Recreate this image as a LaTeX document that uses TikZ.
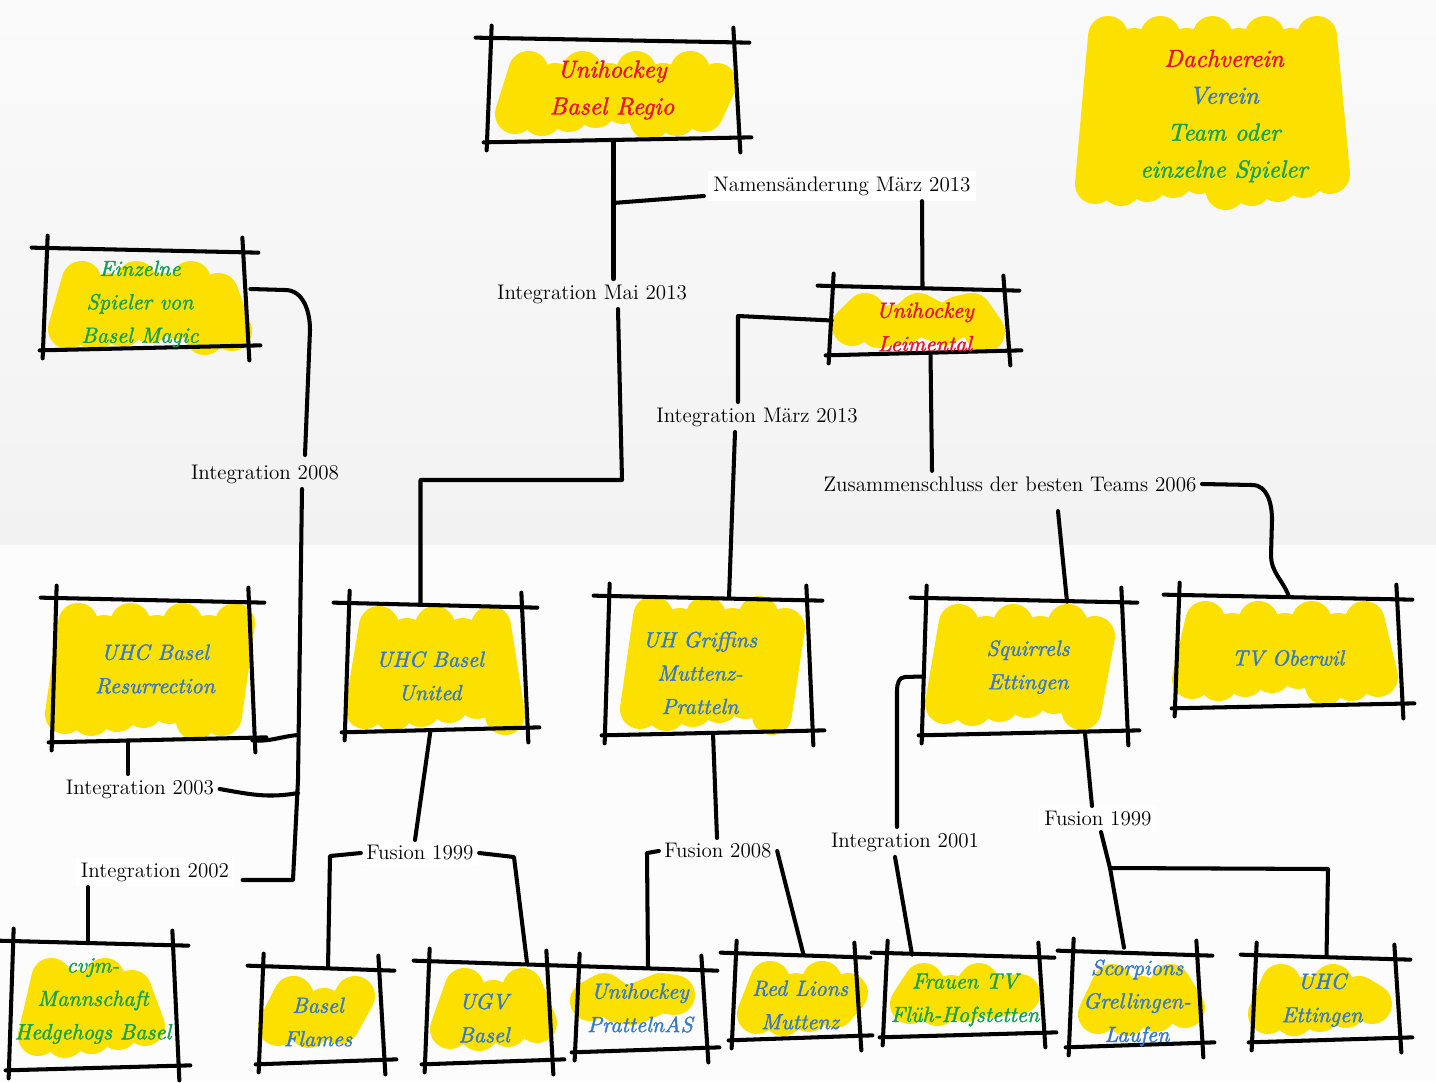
\documentclass[tikz,border=0pt]{standalone}
\usepackage{fontspec}
\usepackage{tikz}
\usetikzlibrary{calc,fit}

\newfontfamily\handfont{lmroman10-italic}[Extension=.otf, FakeBold=1.6]

\definecolor{yel}{RGB}{252,225,0}
\definecolor{cred}{RGB}{230,20,50}
\definecolor{cblue}{RGB}{55,120,200}
\definecolor{cgreen}{RGB}{20,160,85}
\definecolor{bgtop}{RGB}{243,242,243}
\definecolor{bgbot}{RGB}{252,252,252}

% hand drawn frame round a team node
\newcommand{\sketchframe}[1]{%
  \draw[pen] ($(#1.north west)+(-14,-2)$) -- ($(#1.north east)+(12,3)$);
  \draw[pen] ($(#1.north west)+(2,-14)$) -- ($(#1.south west)+(-3,10)$);
  \draw[pen] ($(#1.north east)+(-4,-12)$) -- ($(#1.south east)+(3,12)$);
  \draw[pen] ($(#1.south west)+(-6,2)$) -- ($(#1.south east)+(14,-3)$);
}
% yellow marker scribble
\newcommand{\scrib}[4]{%
  \pgfmathtruncatemacro\nseg{max(3,(#3-#1-40)/13)}
  \draw[blob] ({#1+20},{#4-26})
    \foreach \k in {1,...,\nseg}{ -- ({#1+20+\k*(#3-#1-40)/\nseg},
      {#2+20+6*mod(\k*5,4)+mod(\k+1,2)*(#4-#2-40-6*mod(\k*5,4)-4*mod(\k*3,5))}) };
}

\begin{document}
\begin{tikzpicture}[x=0.02cm, y=-0.02cm,
    pen/.style={draw=black, line width=2.3pt, line cap=round, line join=round},
    blob/.style={draw=yel, line width=0.8cm, line cap=round, line join=round},
    frame/.style={inner sep=0pt},
    team/.style={inner sep=0pt, align=center, font=\handfont\fontsize{12.5}{19}\selectfont},
    big/.style={font=\handfont\fontsize{14}{21}\selectfont},
    lbl/.style={inner sep=3pt, font=\fontsize{12}{14}\selectfont}
  ]
  % background
  \shade[top color=bgbot!80!bgtop, bottom color=bgtop] (0,0) rectangle (1436,545);
  \fill[bgbot] (0,545) rectangle (1436,1082);
  \useasboundingbox (0,0) rectangle (1436,1082);

  % scribbles
  \scrib{495}{45}{737}{140}
  \scrib{48}{255}{252}{355}
  \scrib{832}{287}{1005}{352}
  \scrib{1075}{10}{1350}{210}
  \scrib{45}{597}{255}{740}
  \scrib{345}{600}{525}{735}
  \scrib{620}{590}{805}{735}
  \scrib{925}{598}{1115}{730}
  \scrib{1172}{595}{1398}{705}
  \scrib{18}{952}{165}{1062}
  \scrib{258}{970}{375}{1052}
  \scrib{430}{962}{557}{1055}
  \scrib{570}{967}{695}{1027}
  \scrib{737}{955}{868}{1040}
  \scrib{890}{957}{1040}{1030}
  \scrib{1078}{958}{1205}{1040}
  \scrib{1248}{958}{1392}{1040}

  % frames
  \node[frame, fit={(490,40) (737,140)}] (regio) {};
  \node[frame, fit={(46,250) (246,348)}] (magic) {};
  \node[frame, fit={(832,288) (1007,353)}] (leim) {};
  \node[frame, fit={(55,600) (252,740)}] (resur) {};
  \node[frame, fit={(348,605) (525,730)}] (united) {};
  \node[frame, fit={(608,598) (810,733)}] (griff) {};
  \node[frame, fit={(925,600) (1125,733)}] (squir) {};
  \node[frame, fit={(1178,597) (1400,706)}] (oberw) {};
  \node[frame, fit={(12,943) (176,1068)}] (cvjm) {};
  \node[frame, fit={(262,968) (382,1062)}] (flames) {};
  \node[frame, fit={(428,963) (550,1062)}] (ugv) {};
  \node[frame, fit={(578,968) (705,1050)}] (pratt) {};
  \node[frame, fit={(735,955) (858,1038)}] (lions) {};
  \node[frame, fit={(886,955) (1042,1035)}] (frauen) {};
  \node[frame, fit={(1072,953) (1200,1045)}] (scorp) {};
  \node[frame, fit={(1255,957) (1398,1040)}] (uhcett) {};

  \foreach \n in {regio,magic,leim,resur,united,griff,squir,oberw,cvjm,flames,ugv,pratt,lions,frauen,scorp,uhcett}
    {\sketchframe{\n}}

  % texts
  \node[team, big] (legend) at (1224,116)
    {\textcolor{cred}{Dachverein}\\\textcolor{cblue}{Verein}\\\textcolor{cgreen}{Team oder}\\\textcolor{cgreen}{einzelne Spieler}};
  \node[team, big, text=cred] (regiotxt) at (612,90) {Unihockey\\Basel Regio};
  \node[team, text=cgreen] (magictxt) at (140,304) {Einzelne\\Spieler von\\Basel Magic};
  \node[team, text=cred] (leimtxt) at (925,327) {Unihockey\\Leimental};
  \node[team, text=cblue] (resurtxt) at (155,669) {UHC Basel\\Resurrection};
  \node[team, text=cblue] (unitedtxt) at (430,676) {UHC Basel\\United};
  \node[team, text=cblue] (grifftxt) at (700,673) {UH Griffins\\Muttenz-\\Pratteln};
  \node[team, text=cblue] (squirtxt) at (1028,667) {Squirrels\\Ettingen};
  \node[team, text=cblue] (oberwtxt) at (1288,658) {TV Oberwil};
  \node[team, text=cgreen] (cvjmtxt) at (93,1001) {cvjm-\\Mannschaft\\Hedgehogs Basel};
  \node[team, text=cblue] (flamestxt) at (318,1022) {Basel\\Flames};
  \node[team, text=cblue] (ugvtxt) at (484,1018) {UGV\\Basel};
  \node[team, text=cblue] (pratttxt) at (640,1008) {Unihockey\\PrattelnAS};
  \node[team, text=cblue] (lionstxt) at (800,1005) {Red Lions\\Muttenz};
  \node[team, text=cgreen] (frauentxt) at (965,1000) {Frauen TV\\Flüh-Hofstetten};
  \node[team, text=cblue] (scorptxt) at (1137,1003) {Scorpions\\Grellingen-\\Laufen};
  \node[team, text=cblue] (uhcetttxt) at (1322,1000) {UHC\\Ettingen};

  % labels
  \node[lbl] (lmai) at (592,294) {Integration Mai 2013};
  \node[lbl, fill=white] (lname) at (842,186) {Namensänderung März 2013};
  \node[lbl] (lmaerz) at (757,417) {Integration März 2013};
  \node[lbl] (lzus) at (1010,484) {Zusammenschluss der besten Teams 2006};
  \node[lbl] (l2008) at (265,474) {Integration 2008};
  \node[lbl] (l2003) at (140,789) {Integration 2003};
  \node[lbl, fill=white] (l2002) at (155,872) {Integration 2002};
  \node[lbl, fill=white] (lfus1) at (420,853) {Fusion 1999};
  \node[lbl] (lfus2) at (718,851) {Fusion 2008};
  \node[lbl] (l2001) at (905,842) {Integration 2001};
  \node[lbl, fill=white] (lfus3) at (1098,819) {Fusion 1999};

  % connectors
  \draw[pen] (regio.south) -- (lmai.north -| regio.south);
  \draw[pen] (lmai.south -| 618,0) -- (622,480) -| ($(united.north)+(-16,0)$);
  \draw[pen] (613,203) -- ($(lname.west)+(-4,10)$);
  \draw[pen] (lname.south -| 922,0) -- ($(leim.north)+(3,0)$);
  \draw[pen] (leim.west) -- (738,316) -- (lmaerz.north -| 738,0);
  \draw[pen] (lmaerz.south -| 735,0) -- ($(griff.north)+(20,0)$);
  \draw[pen] ($(leim.south)+(11,0)$) -- (lzus.north -| 932,0);
  \draw[pen] ($(lzus.south)+(48,14)$) -- ($(squir.north)+(42,2)$);
  \draw[pen] (lzus.east) -- (1252,485) to[out=0,in=90] (1272,520) -- (1271,555) to[out=-90,in=110] (oberw.north);
  \draw[pen] ($(magic.east)+(4,-10)$) -- (285,290) to[out=0,in=90] (310,330) -- (305,455);
  \draw[pen] (l2008.south -| 302,0) -- (298,780) -- (293,880) -- ($(l2002.east)+(8,8)$);
  \draw[pen] (resur.south east) to[out=-5,in=185] (298,735);
  \draw[pen] (resur.south -| 128,0) -- (l2003.north -| 128,0);
  \draw[pen] (l2003.east) to[out=-10,in=190] (298,793);
  \draw[pen] (l2002.south -| 88,0) -- (cvjm.north -| 88,0);
  \draw[pen] ($(united.south)+(-6,0)$) -- (lfus1.north -| 415,0);
  \draw[pen] (lfus1.west) -- (330,856) -- (flames.north -| 328,0);
  \draw[pen] (lfus1.east) -- (514,857) -- ($(ugv.north)+(38,0)$);
  \draw[pen] ($(griff.south)+(4,0)$) -- (lfus2.north -| 717,0);
  \draw[pen] (lfus2.west) -- (647,853) -- (pratt.north -| 648,0);
  \draw[pen] (lfus2.east) -- ($(lions.north)+(7,0)$);
  \draw[pen] ($(squir.west)+(-3,10)$) -- (905,677) to[out=180,in=90] (897,690) -- (l2001.north -| 897,0);
  \draw[pen] (l2001.south -| 895,0) -- (frauen.north -| 912,0);
  \draw[pen] ($(squir.south)+(60,0)$) -- (lfus3.north -| 1092,0);
  \draw[pen] (lfus3.south -| 1101,0) -- (1110,868) -- ($(scorp.north)+(-12,-5)$);
  \draw[pen] (1110,868) -- (1328,869) -- (uhcett.north);
\end{tikzpicture}
\end{document}
